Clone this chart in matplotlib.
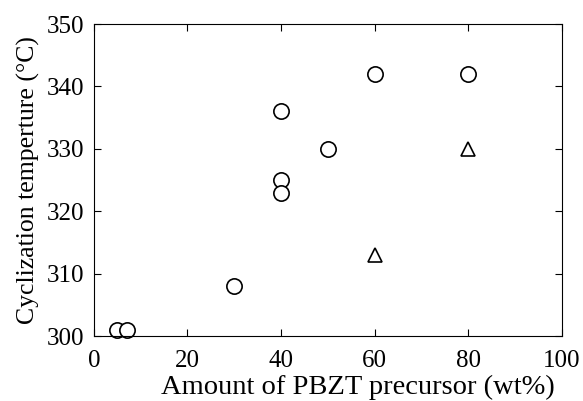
import matplotlib.pyplot as plt

# circles
circ_x = [5, 7, 30, 40, 40, 40, 50, 60, 80]
circ_y = [301, 301, 308, 336, 325, 323, 330, 342, 342]
# triangles
tri_x = [60, 80]
tri_y = [313, 330]

plt.rcParams['font.family'] = 'Liberation Serif'

fig = plt.figure(figsize=(5.83, 4.01), dpi=100)
ax = fig.add_axes([0.161, 0.162, 0.803, 0.778])

ax.plot(circ_x, circ_y, 'o', ms=11, mfc='white', mec='black', mew=1.2, clip_on=False)
ax.plot(tri_x, tri_y, '^', ms=10, mfc='white', mec='black', mew=1.2, clip_on=False)

ax.set_xlim(0, 100)
ax.set_ylim(300, 350)
ax.set_xticks(range(0, 101, 20))
ax.set_yticks(range(300, 351, 10))
ax.tick_params(direction='in', top=True, right=True, labelsize=18, length=5)
ax.tick_params(axis='x', pad=10)
ax.tick_params(axis='y', pad=7)
ax.set_xlabel('Amount of PBZT precursor (wt%)', fontsize=20.5)
ax.xaxis.set_label_coords(0.565, -0.125)
ax.set_ylabel('Cyclization temperture (°C)', fontsize=18.5, labelpad=5)

fig.savefig('out.png', dpi=100)
